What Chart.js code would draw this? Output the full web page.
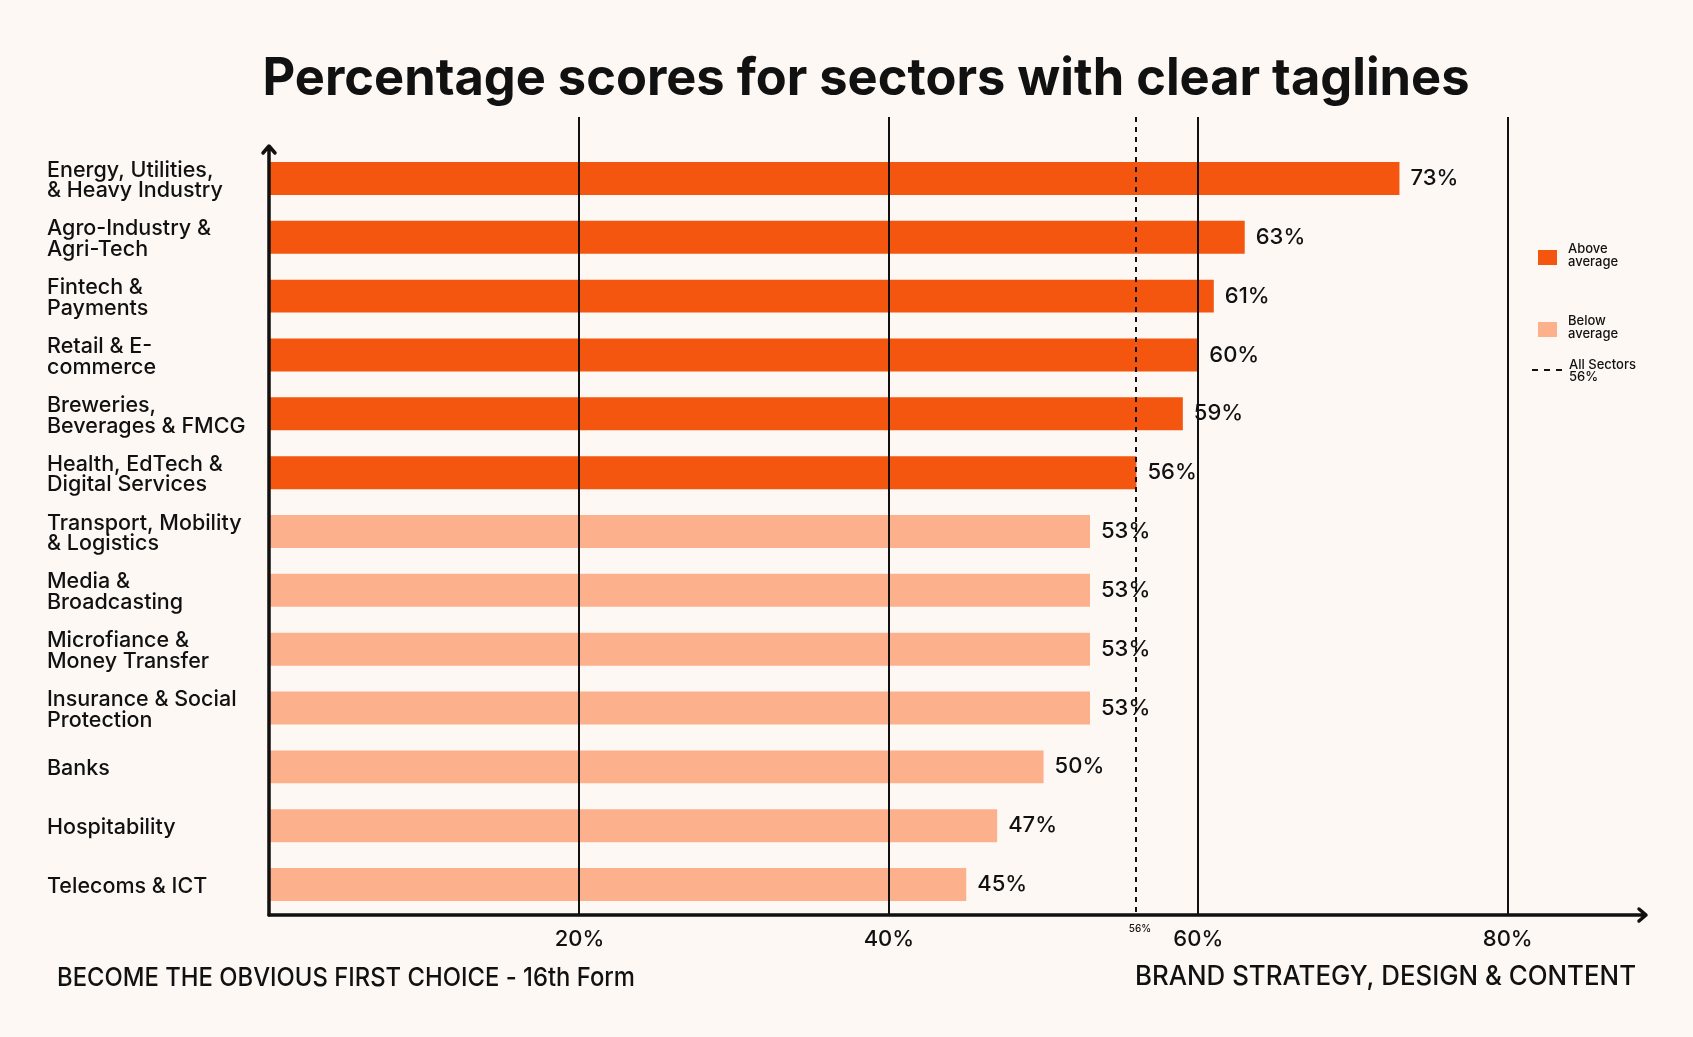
<!DOCTYPE html>
<html>
<head>
<meta charset="utf-8">
<script src="https://cdn.jsdelivr.net/npm/chart.js@4.4.0/dist/chart.umd.min.js"></script>
<style>
  html, body { margin: 0; padding: 0; background: #fdf8f4; }
  #wrap { width: 1693px; height: 1037px; position: relative; }
</style>
</head>
<body>
<div id="wrap"><canvas id="barChart"></canvas></div>
<script>
// --- data ---
var sectors = [
  ['Energy, Utilities,', '& Heavy Industry'],
  ['Agro-Industry &', 'Agri-Tech'],
  ['Fintech &', 'Payments'],
  ['Retail & E-', 'commerce'],
  ['Breweries,', 'Beverages & FMCG'],
  ['Health, EdTech &', 'Digital Services'],
  ['Transport, Mobility', '& Logistics'],
  ['Media &', 'Broadcasting'],
  ['Microfiance &', 'Money Transfer'],
  ['Insurance & Social', 'Protection'],
  'Banks',
  'Hospitability',
  'Telecoms & ICT'
];
var scores = [73, 63, 61, 60, 59, 56, 53, 53, 53, 53, 50, 47, 45];
var allSectorsAvg = 56;
var xTicks = [20, 40, 60, 80];

var ABOVE = '#f4560f';
var BELOW = '#fdb08c';
var INK = '#111111';
var FONT = 'Inter, "Noto Sans", sans-serif';

var barColors = scores.map(function (v) { return v >= allSectorsAvg ? ABOVE : BELOW; });

//-------------
var extras = {
  id: 'extras',
  afterDatasetsDraw: function (chart) {
    var ctx = chart.ctx;
    var ca = chart.chartArea;
    var xs = chart.scales.x;
    var meta = chart.getDatasetMeta(0);

    // value labels
    ctx.save();
    ctx.fillStyle = INK;
    ctx.font = '500 22px ' + FONT;
    ctx.textAlign = 'left';
    ctx.textBaseline = 'middle';
    meta.data.forEach(function (bar, i) {
      ctx.fillText(scores[i] + '%', bar.x + 11, bar.y);
    });
    ctx.restore();

    // vertical grid lines (run above the plot)
    ctx.save();
    ctx.strokeStyle = INK;
    ctx.lineWidth = 2;
    xTicks.forEach(function (v) {
      var x = Math.round(xs.getPixelForValue(v));
      ctx.beginPath();
      ctx.moveTo(x, 117);
      ctx.lineTo(x, ca.bottom);
      ctx.stroke();
    });
    // all sectors average
    var ax = Math.round(xs.getPixelForValue(allSectorsAvg));
    ctx.setLineDash([5, 5]);
    ctx.beginPath();
    ctx.moveTo(ax, 117);
    ctx.lineTo(ax, ca.bottom);
    ctx.stroke();
    ctx.setLineDash([]);
    ctx.font = '500 10px ' + FONT;
    ctx.textAlign = 'center';
    ctx.textBaseline = 'middle';
    ctx.fillStyle = INK;
    ctx.fillText(allSectorsAvg + '%', ax + 4, 929);

    // axes with arrow heads
    ctx.lineWidth = 3.5;
    ctx.lineCap = 'round';
    ctx.lineJoin = 'round';
    var ox = ca.left - 1, oy = ca.bottom + 1;
    ctx.beginPath();
    ctx.moveTo(ox, oy);
    ctx.lineTo(ox, 147);
    ctx.moveTo(ox - 6, 153);
    ctx.lineTo(ox, 146);
    ctx.lineTo(ox + 6, 153);
    ctx.stroke();
    ctx.beginPath();
    ctx.moveTo(ox, oy);
    ctx.lineTo(1645, oy);
    ctx.moveTo(1639, oy - 6);
    ctx.lineTo(1646, oy);
    ctx.lineTo(1639, oy + 6);
    ctx.stroke();
    ctx.restore();
  },
  afterDraw: function (chart) {
    var ctx = chart.ctx;
    ctx.save();
    ctx.fillStyle = INK;

    // title
    ctx.font = '700 52px ' + FONT;
    ctx.textAlign = 'center';
    ctx.textBaseline = 'alphabetic';
    ctx.fillText('Percentage scores for sectors with clear taglines', 866, 95, 1207);

    // legend
    ctx.textAlign = 'left';
    ctx.textBaseline = 'middle';
    ctx.font = '500 13px ' + FONT;
    ctx.fillStyle = ABOVE;
    ctx.fillRect(1538, 250, 19, 15);
    ctx.fillStyle = BELOW;
    ctx.fillRect(1538, 322, 19, 15);
    ctx.fillStyle = INK;
    ctx.fillText('Above', 1568, 249);
    ctx.fillText('average', 1568, 262);
    ctx.fillText('Below', 1568, 321);
    ctx.fillText('average', 1568, 334);
    ctx.fillText('All Sectors', 1569, 365);
    ctx.fillText(allSectorsAvg + '%', 1569, 377);
    ctx.strokeStyle = INK;
    ctx.lineWidth = 2;
    ctx.setLineDash([6, 6]);
    ctx.beginPath();
    ctx.moveTo(1532, 370);
    ctx.lineTo(1564, 370);
    ctx.stroke();
    ctx.setLineDash([]);

    // footer
    ctx.font = '500 26px ' + FONT;
    ctx.textAlign = 'left';
    ctx.fillText('BECOME THE OBVIOUS FIRST CHOICE - 16th Form', 57, 978, 578);
    ctx.font = '500 26.5px ' + FONT;
    ctx.fillText('BRAND STRATEGY, DESIGN & CONTENT', 1135, 977, 501);
    ctx.restore();
  }
};

var barChartCanvas = document.getElementById('barChart').getContext('2d');

var myNewChart = new Chart(barChartCanvas, {
  type: 'bar',
  data: {
    labels: sectors,
    datasets: [{
      data: scores,
      backgroundColor: barColors,
      borderWidth: 0,
      barPercentage: 0.56,
      categoryPercentage: 1.0
    }]
  },
  options: {
    indexAxis: 'y',
    responsive: true,
    maintainAspectRatio: false,
    animation: false,
    layout: { padding: { left: 47, right: 46, top: 149, bottom: 0 } },
    plugins: {
      legend: { display: false },
      title: { display: false },
      tooltip: { enabled: false }
    },
    scales: {
      x: {
        type: 'linear',
        min: 0,
        max: 89,
        grid: { display: false, drawTicks: false },
        border: { display: false },
        afterBuildTicks: function (s) {
          s.ticks = xTicks.map(function (v) { return { value: v }; });
        },
        afterFit: function (s) { s.height = 123; },
        ticks: {
          padding: 12,
          color: INK,
          font: { family: FONT, size: 22, weight: '500' },
          callback: function (v) { return v + '%'; }
        }
      },
      y: {
        grid: { display: false, drawTicks: false },
        border: { display: false },
        afterFit: function (s) { s.width = 223; },
        ticks: {
          crossAlign: 'far',
          padding: 0,
          labelOffset: 2,
          color: INK,
          font: { family: FONT, size: 21.5, weight: '500', lineHeight: 0.96 }
        }
      }
    }
  },
  plugins: [extras]
});
</script>
</body>
</html>
